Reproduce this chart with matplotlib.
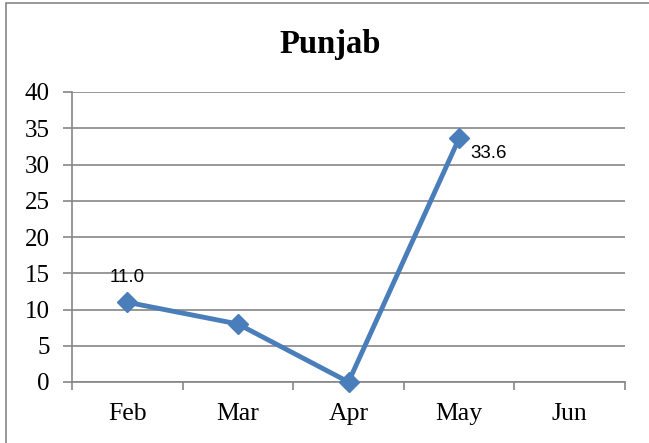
import matplotlib.pyplot as plt
from matplotlib.patches import Rectangle

months = ["Feb", "Mar", "Apr", "May", "Jun"]
values = [11.0, 8.0, 0.0, 33.6]
labels = {0: "11.0", 3: "33.6"}
yticks = [0, 5, 10, 15, 20, 25, 30, 35, 40]

W, H = 649, 443
fig = plt.figure(figsize=(W / 100, H / 100), dpi=100)
ax = fig.add_axes([72 / W, (H - 382) / H, (625 - 72) / W, (382 - 92) / H])

grid = "#868686"
blue = "#4A7EBB"

x = list(range(len(values)))
ax.plot(x, values, color=blue, lw=3.5, marker="D", ms=10, zorder=3, clip_on=False)

ax.set_xlim(-0.5, len(months) - 0.5)
ax.set_ylim(0, 40)
ax.set_yticks(yticks)
ax.set_yticklabels([str(v) for v in yticks], fontfamily="Liberation Serif", fontsize=18)
ax.set_xticks(range(len(months)))
ax.set_xticklabels(months, fontfamily="Liberation Serif", fontsize=18.5)
ax.set_xticks([i - 0.5 for i in range(len(months) + 1)], minor=True)
ax.tick_params(axis="x", which="major", length=0, pad=15)
ax.tick_params(axis="x", which="minor", length=6, color=grid, width=1.2)
ax.tick_params(axis="y", length=6.5, color=grid, width=1.2, pad=9.5)

ax.grid(axis="y", color=grid, lw=1.2)
ax.set_axisbelow(True)
for s in ["top", "right"]:
    ax.spines[s].set_visible(False)
for s in ["left", "bottom"]:
    ax.spines[s].set_color(grid)
    ax.spines[s].set_linewidth(1.2)

for i, t in labels.items():
    if i == 0:
        ax.annotate(t, (i, values[i]), xytext=(0, 18), textcoords="offset points",
                    ha="center", va="center", fontfamily="Liberation Sans", fontsize=13.5)
    else:
        ax.annotate(t, (i, values[i]), xytext=(8, -11), textcoords="offset points",
                    ha="left", va="center", fontfamily="Liberation Sans", fontsize=13.5)

fig.text(330 / W, 1 - 44 / H, "Punjab", ha="center", va="center",
         fontfamily="Liberation Serif", fontweight="bold", fontsize=23.5)

fig.patches.append(Rectangle((6 / W, -0.1), 1.2, 1.1 - 3 / H, transform=fig.transFigure,
                             fill=False, edgecolor=grid, lw=1.2))

fig.savefig("out.png", dpi=100)
